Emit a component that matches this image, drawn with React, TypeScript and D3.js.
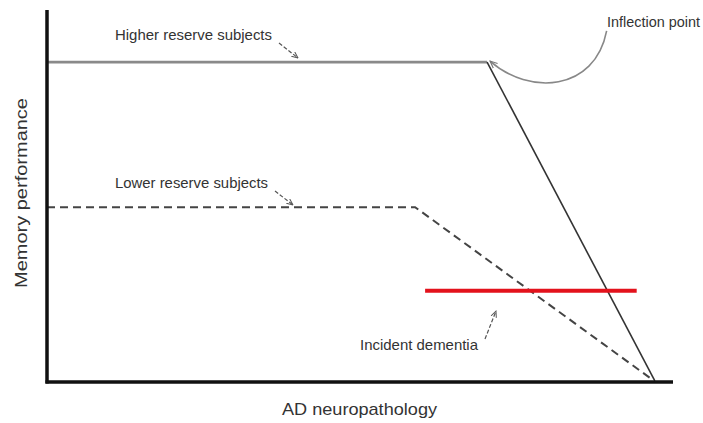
import React from "react";
import * as d3 from "d3";

// Data (conceptual model units: x = AD neuropathology 0-100, y = memory performance 0-100)
const higherX = [0, 70.3, 97.1];
const higherY = [86, 86, 0.3];
const lowerX = [0, 58.8, 96.4];
const lowerY = [47, 47, 1];
const dementiaX = [60.4, 94.2];
const dementiaY = [24.5, 24.5];

const labels = ["Higher reserve subjects", "Lower reserve subjects", "Inflection point", "Incident dementia"];
const xTitle = "AD neuropathology";
const yTitle = "Memory performance";

const W = 703;
const H = 423;
const x = d3.scaleLinear().domain([0, 100]).range([47, 673]);
const y = d3.scaleLinear().domain([0, 100]).range([382, 10]);

const toPts = (xs: number[], ys: number[]) => xs.map((v, i) => [v, ys[i]] as [number, number]);
const line = d3.line<[number, number]>().x((d) => x(d[0])).y((d) => y(d[1]));

export default function App() {
  const higher = toPts(higherX, higherY);
  const lower = toPts(lowerX, lowerY);
  const dementia = toPts(dementiaX, dementiaY);
  const font = "'Liberation Sans', Arial, sans-serif";
  const txt = "#333";

  // inflection curve from label to inflection point
  const ip = higher[1];
  const curveStart: [number, number] = [x(89.4), y(94.4)];
  const curve = d3.path();
  curve.moveTo(curveStart[0], curveStart[1]);
  curve.bezierCurveTo(x(87.5), y(78), x(77), y(77), x(ip[0]) + 3, y(ip[1]) - 1);

  return (
    <svg width={W} height={H} style={{ position: "absolute", left: 0, top: 0, background: "#fff" }}>
      <defs>
        <marker id="arr" viewBox="0 0 10 10" refX="9" refY="5" markerWidth="7" markerHeight="7" orient="auto-start-reverse" markerUnits="userSpaceOnUse">
          <path d="M0,1 L9,5 L0,9" fill="none" stroke="#555" strokeWidth={1.4} />
        </marker>
        <marker id="arr2" viewBox="0 0 10 10" refX="9" refY="5" markerWidth="8" markerHeight="8" orient="auto" markerUnits="userSpaceOnUse">
          <path d="M0,1 L9,5 L0,9" fill="none" stroke="#777" strokeWidth={1.4} />
        </marker>
      </defs>
      <rect width={W} height={H} fill="#fff" />

      {/* curves */}
      <path d={line(higher.slice(0, 2)) || ""} fill="none" stroke="#8a8a8a" strokeWidth={2.6} />
      <path d={line(higher.slice(1)) || ""} fill="none" stroke="#333" strokeWidth={1.6} />
      <path d={line(lower) || ""} fill="none" stroke="#444" strokeWidth={2} strokeDasharray="8,5" />
      <path d={line(dementia) || ""} fill="none" stroke="#e3121c" strokeWidth={4} />

      {/* axes */}
      <line x1={x(0)} x2={x(0)} y1={y(100)} y2={y(0) + 1.5} stroke="#111" strokeWidth={3.5} />
      <line x1={x(0) - 1.5} x2={x(100)} y1={y(0)} y2={y(0)} stroke="#111" strokeWidth={3.5} />

      {/* axis titles */}
      <text x={282} y={415} fontFamily={font} fontSize={17} fill={txt} textLength={155} lengthAdjust="spacingAndGlyphs">{xTitle}</text>
      <text transform={`translate(27,288) rotate(-90)`} fontFamily={font} fontSize={17} fill={txt} textLength={190} lengthAdjust="spacingAndGlyphs">{yTitle}</text>

      {/* annotations */}
      <text x={115} y={40} fontFamily={font} fontSize={15} fill={txt} textLength={157} lengthAdjust="spacingAndGlyphs">{labels[0]}</text>
      <line x1={279} y1={43} x2={298} y2={58} stroke="#555" strokeWidth={1.2} strokeDasharray="4,2" markerEnd="url(#arr)" />

      <text x={607} y={27} fontFamily={font} fontSize={15} fill={txt} textLength={93} lengthAdjust="spacingAndGlyphs">{labels[2]}</text>
      <path d={curve.toString()} fill="none" stroke="#888" strokeWidth={1.6} markerEnd="url(#arr2)" />

      <text x={115} y={188} fontFamily={font} fontSize={15} fill={txt} textLength={153} lengthAdjust="spacingAndGlyphs">{labels[1]}</text>
      <line x1={275} y1={191} x2={293} y2={205} stroke="#555" strokeWidth={1.2} strokeDasharray="4,2" markerEnd="url(#arr)" />

      <text x={360} y={350} fontFamily={font} fontSize={15} fill={txt} textLength={118} lengthAdjust="spacingAndGlyphs">{labels[3]}</text>
      <line x1={485} y1={339} x2={496} y2={311} stroke="#555" strokeWidth={1.2} strokeDasharray="4,2" markerEnd="url(#arr)" />
    </svg>
  );
}
